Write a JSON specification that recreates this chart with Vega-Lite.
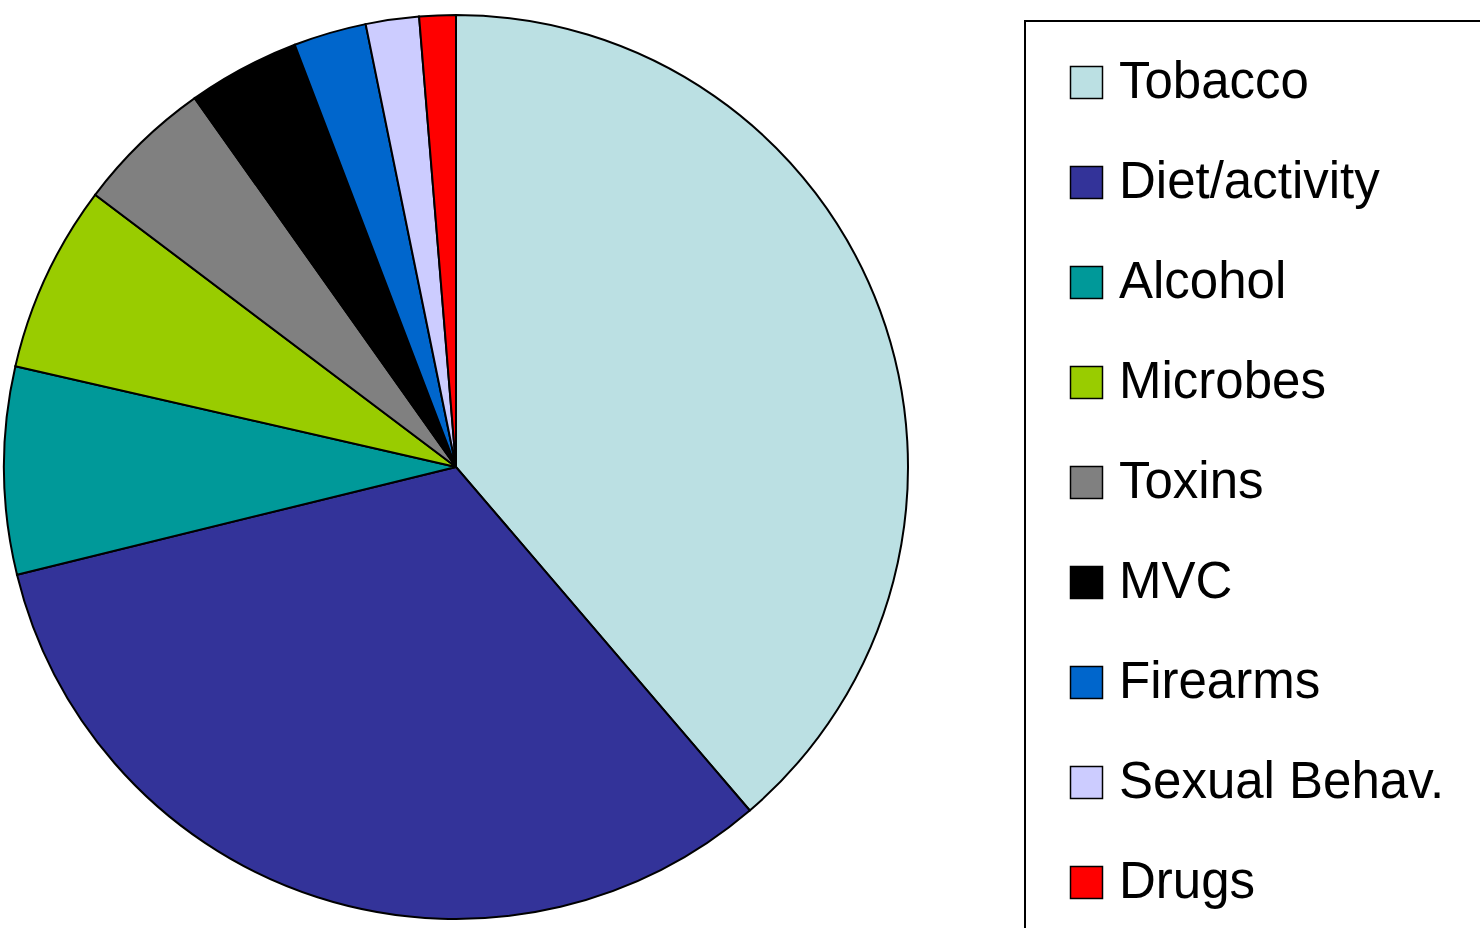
{
  "$schema": "https://vega.github.io/schema/vega-lite/v6.json",
  "width": 910,
  "height": 934,
  "padding": 0,
  "autosize": {"type": "pad"},
  "background": "white",
  "data": {
    "values": [
      {"cause": "Tobacco", "share": 38.7, "rank": 1},
      {"cause": "Diet/activity", "share": 32.4, "rank": 2},
      {"cause": "Alcohol", "share": 7.4, "rank": 3},
      {"cause": "Microbes", "share": 6.7, "rank": 4},
      {"cause": "Toxins", "share": 4.9, "rank": 5},
      {"cause": "MVC", "share": 4.0, "rank": 6},
      {"cause": "Firearms", "share": 2.6, "rank": 7},
      {"cause": "Sexual Behav.", "share": 1.9, "rank": 8},
      {"cause": "Drugs", "share": 1.3, "rank": 9}
    ]
  },
  "mark": {"type": "arc", "outerRadius": 452, "stroke": "black", "strokeWidth": 2},
  "encoding": {
    "theta": {"field": "share", "type": "quantitative"},
    "order": {"field": "rank", "type": "quantitative"},
    "color": {
      "field": "cause",
      "type": "nominal",
      "scale": {
        "domain": ["Tobacco", "Diet/activity", "Alcohol", "Microbes", "Toxins", "MVC", "Firearms", "Sexual Behav.", "Drugs"],
        "range": ["#BBE0E3", "#333399", "#009999", "#99CC00", "#808080", "#000000", "#0066CC", "#CCCCFF", "#FF0000"]
      },
      "legend": {
        "title": null,
        "orient": "none",
        "legendX": 1024,
        "legendY": 21,
        "padding": 36,
        "strokeColor": "black",
        "symbolType": "square",
        "symbolSize": 1024,
        "symbolStrokeColor": "black",
        "symbolStrokeWidth": 1.5,
        "symbolOpacity": 1,
        "labelFont": "Liberation Sans",
        "labelFontSize": 51,
        "labelColor": "black",
        "labelOffset": 7,
        "labelLimit": 500,
        "rowPadding": 48
      }
    }
  },
  "config": {"legend": {"strokeWidth": 2}}
}
